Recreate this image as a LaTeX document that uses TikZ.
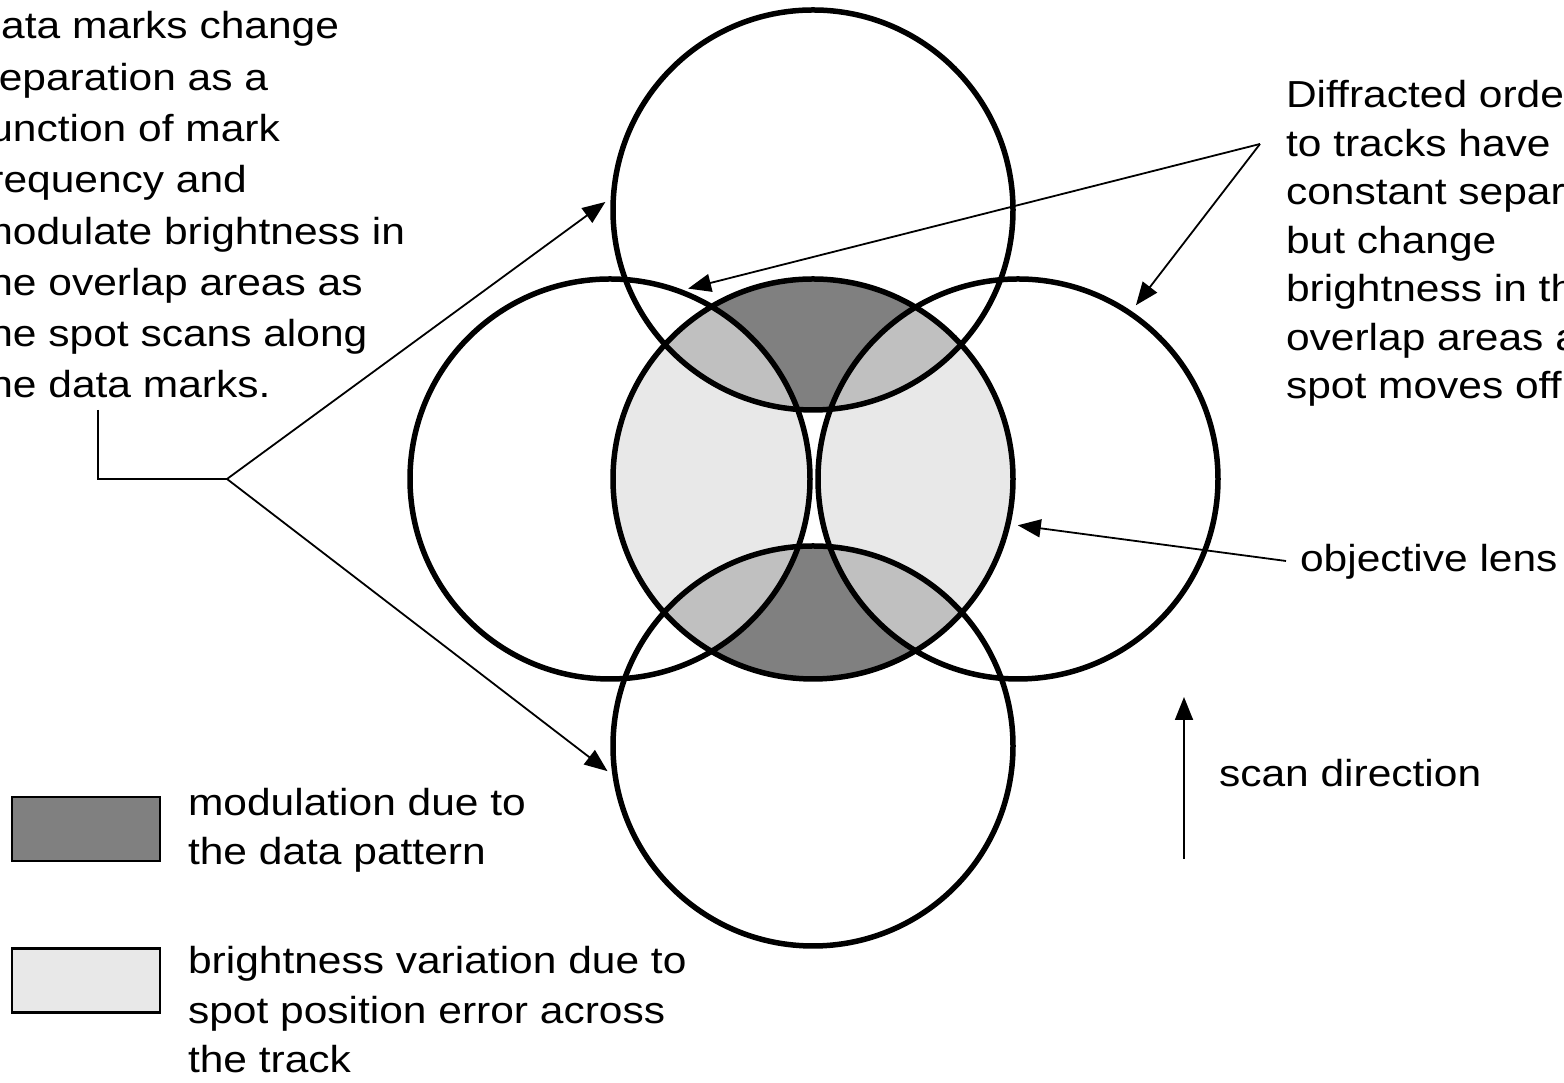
\documentclass[tikz,border=0pt]{standalone}
\usepackage{fontspec}
\setmainfont{Liberation Sans}[FakeStretch=1.13]
\usepackage{tikz}
\usetikzlibrary{arrows.meta,positioning,backgrounds}

\definecolor{markgray}{HTML}{808080}
\definecolor{overlapgray}{HTML}{C0C0C0}
\definecolor{trackgray}{HTML}{E8E8E8}

\begin{document}
\begin{tikzpicture}[>={Triangle[length=0.23cm,width=0.18cm]},on grid,semithick]
\tikzstyle{lensring} = [circle,draw=black,line width=0.055cm,minimum size=4cm,inner sep=0pt,outer sep=0pt]
\tikzstyle{pointer} = [->,line width=0.018cm,shorten >=0.1cm]
\tikzstyle{leader} = [line width=0.018cm]
\tikzstyle{swatch} = [draw=black,line width=0.022cm,minimum width=1.48cm,minimum height=0.64cm,inner sep=0pt]
\tikzstyle{notetext} = [anchor=base west,inner sep=0pt,align=left]
    \useasboundingbox (0,0) rectangle (15.64,10.83);
    \clip (0,0) rectangle (15.64,10.83);

    % objective lens and the four diffracted orders
    \node[lensring] (objl) at (8.13,6.04) {};
    \node[lensring] (ordU) [above=2.69cm of objl] {};
    \node[lensring] (ordD) [below=2.67cm of objl] {};
    \node[lensring] (ordL) [left=2.03cm of objl] {};
    \node[lensring] (ordR) [right=2.05cm of objl] {};

    % overlap shading
    \begin{scope}[on background layer]
      \clip (objl.center) circle (2cm);
      \fill[trackgray] (ordL.center) circle (2cm) (ordR.center) circle (2cm);
      \foreach \o in {ordU,ordD}{
        \begin{scope}
          \clip (\o.center) circle (2cm);
          \fill[markgray] (\o.center) circle (2cm);
          \fill[overlapgray] (ordL.center) circle (2cm) (ordR.center) circle (2cm);
        \end{scope}
      }
    \end{scope}

    % left note (placed by its last baseline)
    \node[notetext,font=\fontsize{10.7pt}{14.6pt}\selectfont] (datanote) at (-0.235,6.85)
      {data marks change\\separation as a\\function of mark\\frequency and\\modulate brightness in\\the overlap areas as\\the spot scans along\\the data marks.};
    \coordinate (ltick) at (0.98,6.73);
    \coordinate (ljoin) at (2.27,6.04);
    \draw[leader] (ltick) |- (ljoin);
    \draw[pointer] (ljoin) -- (ordU.176);
    \draw[pointer] (ljoin) -- (ordD.189);

    % right note
    \node[notetext,font=\fontsize{10.7pt}{13.8pt}\selectfont] (diffnote) at (12.85,6.84)
      {Diffracted orde\\to tracks have\\constant separ\\but change\\brightness in th\\overlap areas a\\spot moves off};
    \coordinate (rjoin) at (12.60,9.39);
    \draw[pointer] (rjoin) -- (ordL.70);
    \draw[pointer] (rjoin) -- (ordR.56);

    % objective lens label
    \node[notetext,font=\fontsize{10.7pt}{14pt}\selectfont] (lenslbl) at (12.99,5.11) {objective lens};
    \draw[pointer] ([shift={(-0.13,0.11)}]lenslbl.base west) -- (objl.-13);

    % scan direction
    \coordinate (scanfrom) at (11.84,2.24);
    \coordinate (scanto) at (11.84,3.86);
    \draw[pointer,shorten >=0pt] (scanfrom) -- (scanto);
    \node[notetext,font=\fontsize{10.7pt}{14pt}\selectfont] (scanlbl) at (12.18,2.96) {scan direction};

    % legend
    \node[swatch,fill=markgray] (markkey) at (0.86,2.54) {};
    \node[swatch,fill=trackgray] (trackkey) at (0.86,1.025) {};
    \node[notetext,font=\fontsize{10.7pt}{14.2pt}\selectfont] (markdesc) at (1.87,2.18)
      {modulation due to\\the data pattern};
    \node[notetext,font=\fontsize{10.7pt}{14.2pt}\selectfont] (trackdesc) at (1.87,0.10)
      {brightness variation due to\\spot position error across\\the track};
\end{tikzpicture}
\end{document}
